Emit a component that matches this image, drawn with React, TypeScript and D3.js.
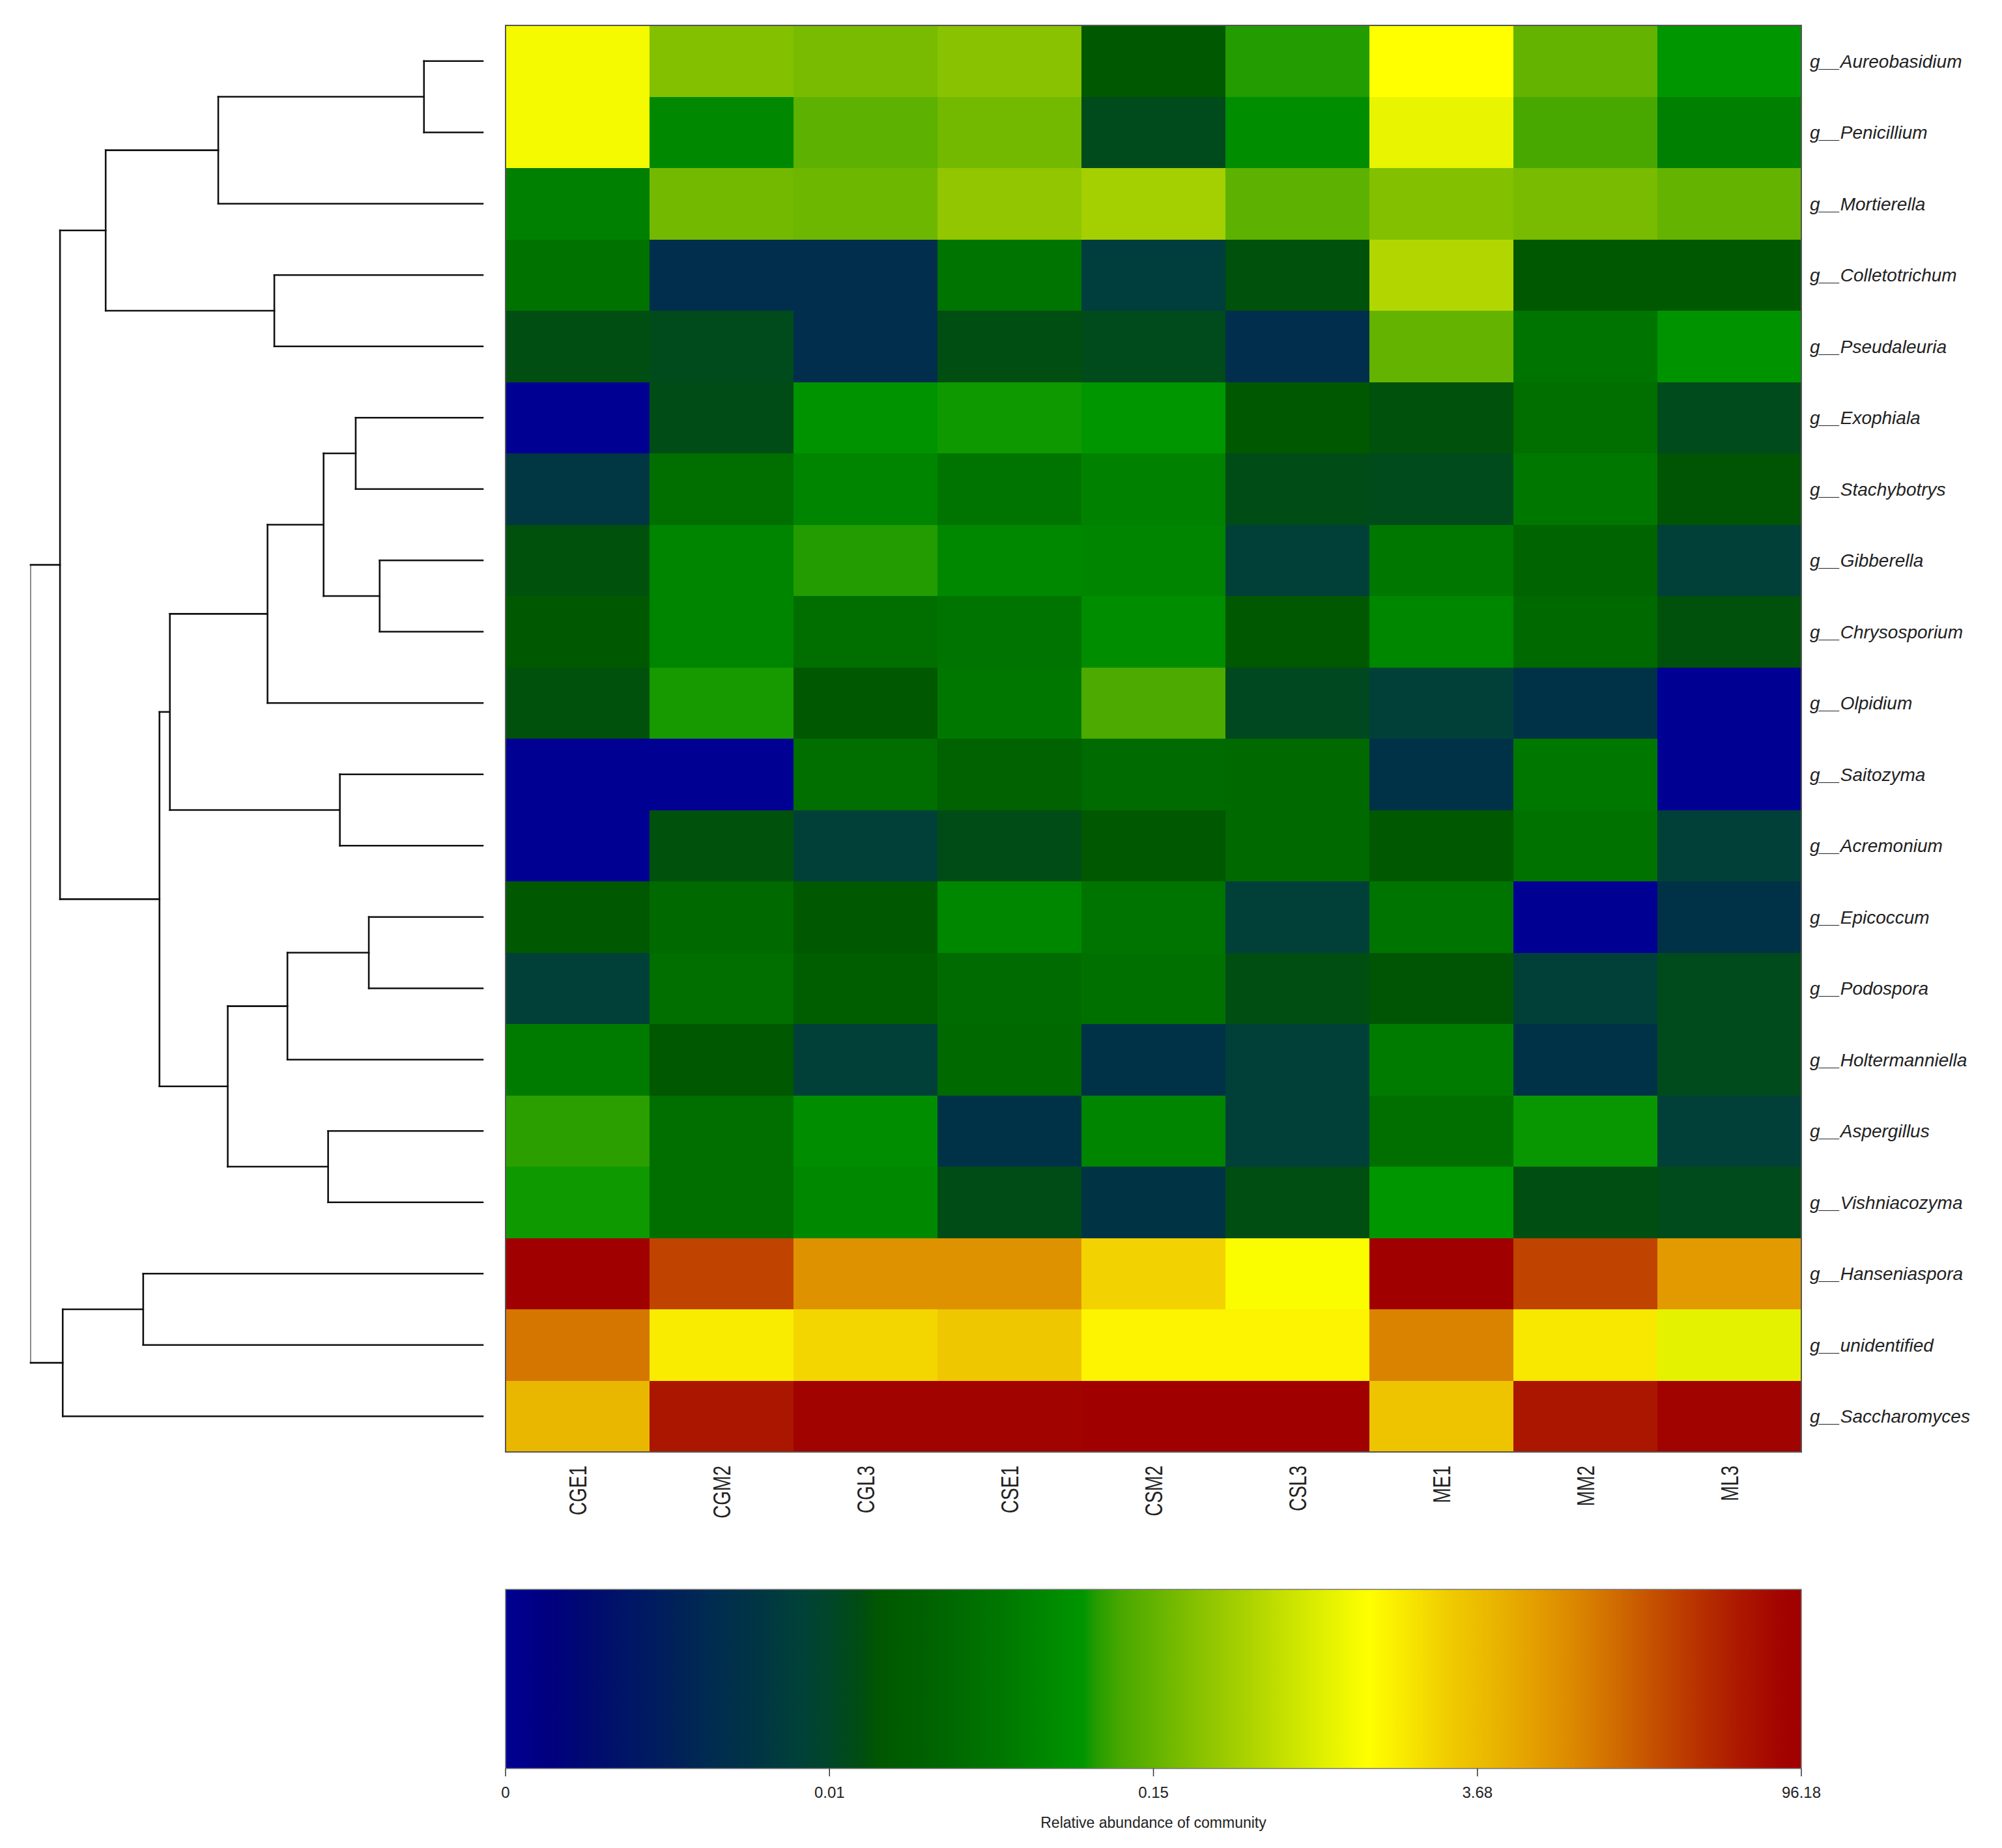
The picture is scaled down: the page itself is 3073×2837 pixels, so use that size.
import React from 'react';
import * as d3 from 'd3';

const samples = ["CGE1", "CGM2", "CGL3", "CSE1", "CSM2", "CSL3", "ME1", "MM2", "ML3"];

const genera = [
  "g__Aureobasidium", "g__Penicillium", "g__Mortierella", "g__Colletotrichum", "g__Pseudaleuria",
  "g__Exophiala", "g__Stachybotrys", "g__Gibberella", "g__Chrysosporium", "g__Olpidium",
  "g__Saitozyma", "g__Acremonium", "g__Epicoccum", "g__Podospora", "g__Holtermanniella",
  "g__Aspergillus", "g__Vishniacozyma", "g__Hanseniaspora", "g__unidentified", "g__Saccharomyces",
];

// relative abundance (%) per genus (rows) and sample (columns)
const abundance: number[][] = [
  [2.34, 0.574, 0.432, 0.644, 0.0324, 0.1248, 2.49, 0.15, 0.1192],
  [2.34, 0.1052, 0.1472, 0.362, 0.0184, 0.1108, 2.13, 0.136, 0.094],
  [0.094, 0.362, 0.291, 0.785, 1.068, 0.1472, 0.574, 0.432, 0.15],
  [0.0772, 0.0068, 0.0068, 0.08, 0.0086, 0.0268, 1.28, 0.0324, 0.0324],
  [0.024, 0.0184, 0.0068, 0.024, 0.0184, 0.0068, 0.15, 0.08, 0.1164],
  [0, 0.0212, 0.1164, 0.122, 0.1192, 0.0324, 0.0268, 0.0716, 0.0184],
  [0.008, 0.0716, 0.0996, 0.08, 0.0968, 0.0212, 0.0184, 0.0856, 0.0296],
  [0.0268, 0.0996, 0.1248, 0.1052, 0.0996, 0.009, 0.0856, 0.0548, 0.009],
  [0.0324, 0.0996, 0.0716, 0.08, 0.1108, 0.0324, 0.1024, 0.0632, 0.0268],
  [0.0268, 0.1231, 0.0324, 0.0856, 0.1388, 0.0156, 0.009, 0.0074, 0],
  [0, 0, 0.0716, 0.052, 0.066, 0.0632, 0.0074, 0.0856, 0],
  [0, 0.0268, 0.009, 0.0212, 0.0324, 0.0632, 0.0324, 0.0772, 0.009],
  [0.0324, 0.0632, 0.0324, 0.1024, 0.08, 0.009, 0.08, 0, 0.0074],
  [0.009, 0.0716, 0.0436, 0.066, 0.0744, 0.024, 0.0296, 0.009, 0.0184],
  [0.0884, 0.0324, 0.009, 0.0632, 0.0074, 0.009, 0.0884, 0.0074, 0.0184],
  [0.1276, 0.0716, 0.1108, 0.0074, 0.0996, 0.009, 0.0716, 0.1209, 0.009],
  [0.122, 0.0716, 0.1052, 0.0212, 0.0076, 0.024, 0.1192, 0.024, 0.0184],
  [96.18, 59.18, 25.88, 25.88, 3.26, 2.41, 96.18, 59.18, 22.18],
  [38.83, 2.84, 3.19, 3.47, 2.69, 2.69, 33.28, 2.91, 2.056],
  [7.38, 79.53, 92.48, 92.48, 96.18, 96.18, 3.54, 79.53, 92.48],
];

const legendTicks = [0, 0.01, 0.15, 3.68, 96.18];
const legendTickLabels = ["0", "0.01", "0.15", "3.68", "96.18"];
const legendTitle = "Relative abundance of community";

const paletteStops = [0, 0.032, 0.064, 0.096, 0.128, 0.16, 0.192, 0.224, 0.25, 0.276, 0.289, 0.32, 0.353, 0.385, 0.417, 0.446, 0.455, 0.475, 0.503, 0.535, 0.567, 0.599, 0.631, 0.666, 0.695, 0.727, 0.759, 0.792, 0.824, 0.856, 0.888, 0.92, 0.952, 0.984, 1];
const paletteColors = ["#000092", "#000080", "#000a70", "#001666", "#00205a", "#002c50", "#003444", "#00403a", "#00462a", "#004e10", "#005800", "#006000", "#006c00", "#007800", "#008800", "#009600", "#229c00", "#48a800", "#66b400", "#88c200", "#a6d000", "#c4e000", "#e0f000", "#ffff00", "#f8e800", "#f0cc00", "#eab800", "#e4a000", "#dc8800", "#d06c00", "#c44e00", "#b83200", "#ac1800", "#a20400", "#a00000"];

// hierarchical clustering of rows (hclust style: negative = leaf index (1-based), positive = merge number)
const merges: [number, number, number][] = [
  [-1, -2, 0.130],
  [1, -3, 0.585],
  [-4, -5, 0.461],
  [2, 3, 0.834],
  [-6, -7, 0.281],
  [-8, -9, 0.228],
  [5, 6, 0.352],
  [7, -10, 0.476],
  [-11, -12, 0.316],
  [8, 9, 0.692],
  [-13, -14, 0.252],
  [11, -15, 0.432],
  [-16, -17, 0.342],
  [12, 13, 0.564],
  [10, 14, 0.715],
  [4, 15, 0.935],
  [-18, -19, 0.751],
  [17, -20, 0.929],
  [16, 18, 1.0],
];

const FONT = "'Liberation Sans', Arial, Helvetica, sans-serif";

export default function App() {
  const W = 3073, H = 2837;
  const hm = { left: 776, right: 2765, top: 39, bottom: 2229 };
  const xBand = d3.scaleBand<string>().domain(samples).range([hm.left, hm.right]);
  const yBand = d3.scaleBand<string>().domain(genera).range([hm.top, hm.bottom]);
  const tScale = d3.scaleLinear().domain(legendTicks).range([0, 0.25, 0.5, 0.75, 1]).clamp(true);
  const colorOfT = d3.scaleLinear<string>().domain(paletteStops).range(paletteColors).interpolate(d3.interpolateRgb);
  const color = (v: number) => colorOfT(tScale(v));
  const dx = d3.scaleLinear().domain([0, 1]).range([741, 47]);

  // dendrogram geometry
  const pos = (ref: number, nodes: { x: number; y: number }[]) => {
    if (ref < 0) {
      const g = genera[-ref - 1];
      return { x: dx(0), y: (yBand(g) as number) + yBand.bandwidth() / 2 };
    }
    return nodes[ref - 1];
  };
  const nodes: { x: number; y: number }[] = [];
  const segs: { x1: number; y1: number; x2: number; y2: number; root?: boolean }[] = [];
  merges.forEach(([a, b, h], i) => {
    const pa = pos(a, nodes), pb = pos(b, nodes);
    const nx = dx(h);
    const ny = (pa.y + pb.y) / 2;
    nodes.push({ x: nx, y: ny });
    const isRoot = i === merges.length - 1;
    segs.push({ x1: nx, y1: pa.y, x2: nx, y2: pb.y, root: isRoot });
    segs.push({ x1: nx, y1: pa.y, x2: pa.x, y2: pa.y });
    segs.push({ x1: nx, y1: pb.y, x2: pb.x, y2: pb.y });
  });

  const leg = { left: 776, right: 2765, top: 2440, bottom: 2715 };
  const lx = d3.scaleLinear().domain([0, 1]).range([leg.left, leg.right]);

  return (
    <svg width={W} height={H} style={{ position: 'absolute', left: 0, top: 0, background: '#fff' }} fontFamily={FONT}>
      <rect x={0} y={0} width={W} height={H} fill="#fff" />
      <defs>
        <linearGradient id="cbar" x1="0" x2="1" y1="0" y2="0">
          {paletteStops.map((s, i) => (
            <stop key={i} offset={s} stopColor={paletteColors[i]} />
          ))}
        </linearGradient>
      </defs>

      {/* heatmap cells */}
      <g shapeRendering="crispEdges">
        {genera.map((g, i) =>
          samples.map((s, j) => (
            <rect key={g + s} x={xBand(s)} y={yBand(g)} width={xBand.bandwidth() + 0.5} height={yBand.bandwidth() + 0.5} fill={color(abundance[i][j])} />
          ))
        )}
      </g>
      <rect x={hm.left} y={hm.top} width={hm.right - hm.left} height={hm.bottom - hm.top} fill="none" stroke="#555" strokeWidth={2} />

      {/* row labels */}
      {genera.map((g) => (
        <text key={g} x={2778} y={(yBand(g) as number) + yBand.bandwidth() / 2 + 10} fontSize={28} fontStyle="italic" fill="#222">
          {g}
        </text>
      ))}

      {/* column labels */}
      {samples.map((s) => (
        <text key={s} transform={`translate(${(xBand(s) as number) + xBand.bandwidth() / 2},2250) rotate(-90) scale(1,1.3)`} textAnchor="end" dy="0.36em" fontSize={28} fill="#222">
          {s}
        </text>
      ))}

      {/* dendrogram */}
      <g strokeLinecap="square">
        {segs.map((sg, i) => (
          <line key={i} x1={sg.x1} y1={sg.y1} x2={sg.x2} y2={sg.y2} stroke={sg.root ? '#8a8a8a' : '#111'} strokeWidth={sg.root ? 2 : 2.6} />
        ))}
      </g>

      {/* color key */}
      <rect x={leg.left} y={leg.top} width={leg.right - leg.left} height={leg.bottom - leg.top} fill="url(#cbar)" stroke="#777" strokeWidth={1.5} />
      {legendTicks.map((v, i) => (
        <g key={i}>
          <line x1={lx(tScale(v))} x2={lx(tScale(v))} y1={leg.bottom} y2={leg.bottom + 12} stroke="#333" strokeWidth={1.5} />
          <text x={lx(tScale(v))} y={2760} textAnchor="middle" fontSize={24} fill="#222">{legendTickLabels[i]}</text>
        </g>
      ))}
      <text x={(leg.left + leg.right) / 2} y={2806} textAnchor="middle" fontSize={23} fill="#222">{legendTitle}</text>
    </svg>
  );
}
